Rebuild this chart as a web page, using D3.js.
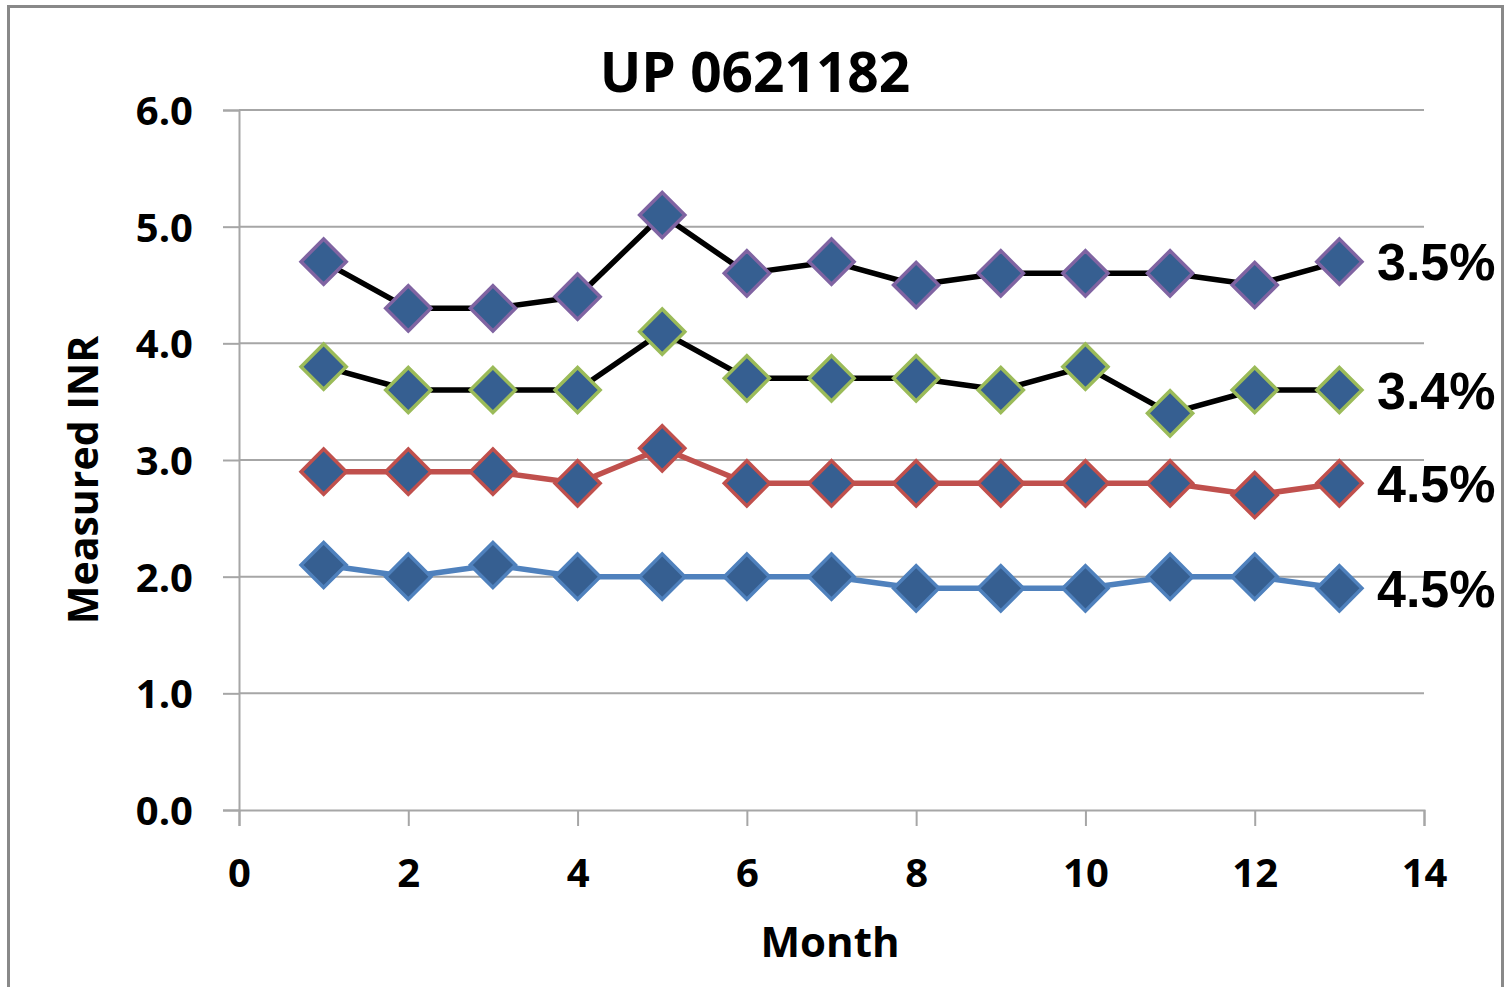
<!DOCTYPE html>
<html><head><meta charset="utf-8">
<script src="https://cdn.jsdelivr.net/npm/d3@7"></script>
<style>html,body{margin:0;padding:0;background:#fff;}</style>
</head><body>
<svg id="c" width="1511" height="987"></svg>
<script>
const months = [1,2,3,4,5,6,7,8,9,10,11,12,13];
const seriesA = [4.7,4.3,4.3,4.4,5.1,4.6,4.7,4.5,4.6,4.6,4.6,4.5,4.7];
const seriesB = [3.8,3.6,3.6,3.6,4.1,3.7,3.7,3.7,3.6,3.8,3.4,3.6,3.6];
const seriesC = [2.9,2.9,2.9,2.8,3.1,2.8,2.8,2.8,2.8,2.8,2.8,2.7,2.8];
const seriesD = [2.1,2.0,2.1,2.0,2.0,2.0,2.0,1.9,1.9,1.9,2.0,2.0,1.9];
const endLabels = ["3.5%","3.4%","4.5%","4.5%"];
const xTicks = [0,2,4,6,8,10,12,14];
const yTicks = [0,1,2,3,4,5,6];

const F = "'Open Sans', Lato, sans-serif";
const svg = d3.select("#c");
svg.append("rect").attr("x",8.5).attr("y",6.5).attr("width",1494).attr("height",990)
  .attr("fill","#fff").attr("stroke","#898989").attr("stroke-width",3);

const x = d3.scaleLinear().domain([0,14]).range([239,1424]);
const y = d3.scaleLinear().domain([0,6]).range([810,110]);

svg.append("g").selectAll("line").data(yTicks.filter(d=>d>0)).join("line")
  .attr("x1",x(0)).attr("x2",x(14)).attr("y1",d=>y(d)).attr("y2",d=>y(d))
  .attr("stroke","#a6a6a6").attr("stroke-width",2);

const yAxis = svg.append("g").attr("transform",`translate(${x(0)},0)`)
  .call(d3.axisLeft(y).tickValues(yTicks).tickSize(16).tickFormat(d3.format(".1f")));
const xAxis = svg.append("g").attr("transform",`translate(0,${y(0)})`)
  .call(d3.axisBottom(x).tickValues(xTicks).tickSize(16).tickFormat(d3.format("d")));
[yAxis,xAxis].forEach(a=>{
  a.select(".domain").attr("stroke","#a6a6a6").attr("stroke-width",2);
  a.selectAll(".tick line").attr("stroke","#a6a6a6").attr("stroke-width",2);
  a.selectAll("text").attr("font-family",F)
    .attr("font-weight","bold").attr("font-size",40).attr("fill","#000");
});
yAxis.selectAll("text").attr("x",-46).attr("dy","0.36em");
xAxis.selectAll("text").attr("y",77).attr("dy","0");

const series = [
  {v:seriesA, line:"#000000", edge:"#8064A2"},
  {v:seriesB, line:"#000000", edge:"#9BBB59"},
  {v:seriesC, line:"#C0504D", edge:"#C0504D"},
  {v:seriesD, line:"#4F81BD", edge:"#4F81BD"}
];
const lineGen = d3.line().x((d,i)=>x(months[i])).y(d=>y(d));
const diamond = d3.symbol().type(d3.symbolDiamond2).size(1300);

series.forEach((s,k)=>{
  svg.append("path").attr("d",lineGen(s.v)).attr("fill","none")
    .attr("stroke",s.line).attr("stroke-width",5.5).attr("stroke-linejoin","round");
  svg.append("g").selectAll("path").data(s.v).join("path")
    .attr("transform",(d,i)=>`translate(${x(months[i])},${y(d)})`)
    .attr("d",diamond).attr("fill","#365F91").attr("stroke",s.edge).attr("stroke-width",3.5);
  svg.append("text").attr("x",1377).attr("y",y(s.v[s.v.length-1])).attr("dy","0.36em")
    .attr("font-family","'Liberation Sans', Arial, sans-serif").attr("font-weight","bold")
    .attr("font-size",52).attr("fill","#000").text(endLabels[k]);
});

svg.append("text").attr("x",755).attr("y",92).attr("text-anchor","middle")
  .attr("font-family",F).attr("font-weight","bold")
  .attr("font-size",55).attr("fill","#000").text("UP 0621182");
svg.append("text").attr("x",830).attr("y",957).attr("text-anchor","middle")
  .attr("font-family",F).attr("font-weight","bold")
  .attr("font-size",42).attr("fill","#000").text("Month");
svg.append("text").attr("transform","translate(98,480) rotate(-90)").attr("text-anchor","middle")
  .attr("font-family",F).attr("font-weight","bold")
  .attr("font-size",41).attr("fill","#000").text("Measured INR");
</script>
</body></html>
